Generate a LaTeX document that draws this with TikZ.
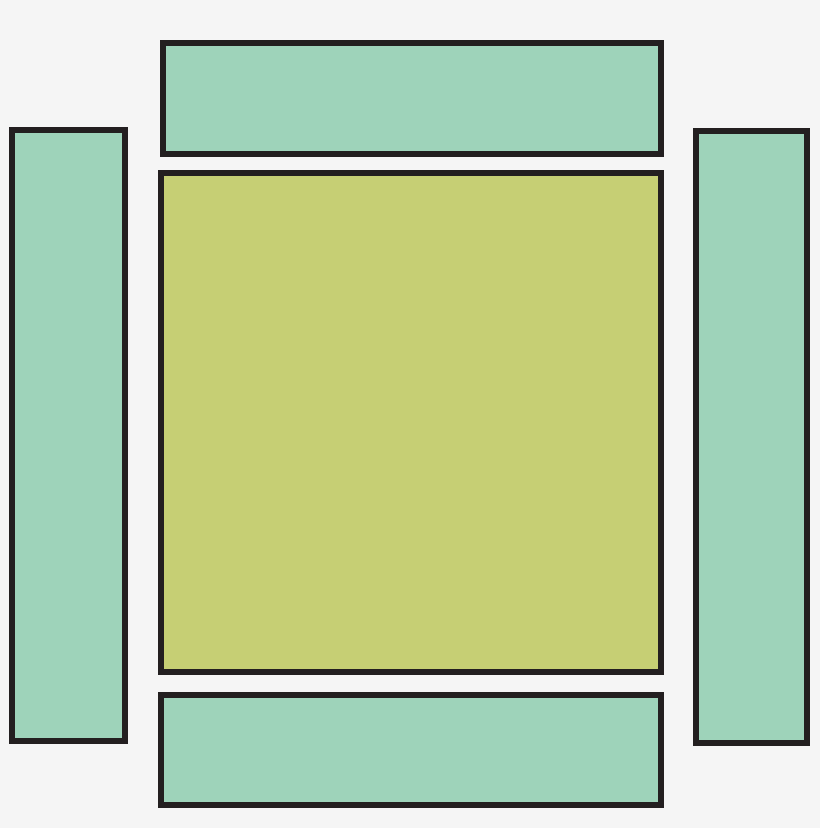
\documentclass[tikz,border=0pt]{standalone}
\usepackage{tikz}

\definecolor{paneGreen}{HTML}{9ED3BA}
\definecolor{coreGreen}{HTML}{C6CF74}
\definecolor{frameBlack}{HTML}{231F20}
\definecolor{paper}{HTML}{F5F5F5}

\begin{document}
\begin{tikzpicture}[x=1pt, y=-1pt]
		\tikzset{pane/.style={rectangle, draw=frameBlack, line width=6pt, fill=paneGreen, inner sep=0pt}};
		\tikzset{core/.style={pane, fill=coreGreen}};

		\fill[paper] (0, 0) rectangle (820, 828);
		\useasboundingbox (0, 0) rectangle (820, 828);

		\node[pane, minimum width=498.6pt, minimum height=110.4pt] (top) at (412, 98.5) {};
		\node[core, minimum width=500pt, minimum height=499.3pt] (core) at (411.3, 422.6) {};
		\node[pane, minimum width=500pt, minimum height=110.6pt] (bottom) at (411.3, 750) {};
		\node[pane, minimum width=112.7pt, minimum height=611.3pt] (lbar) at (68.3, 435.3) {};
		\node[pane, minimum width=111pt, minimum height=612pt] (rbar) at (751.2, 437) {};
	\end{tikzpicture}
\end{document}
